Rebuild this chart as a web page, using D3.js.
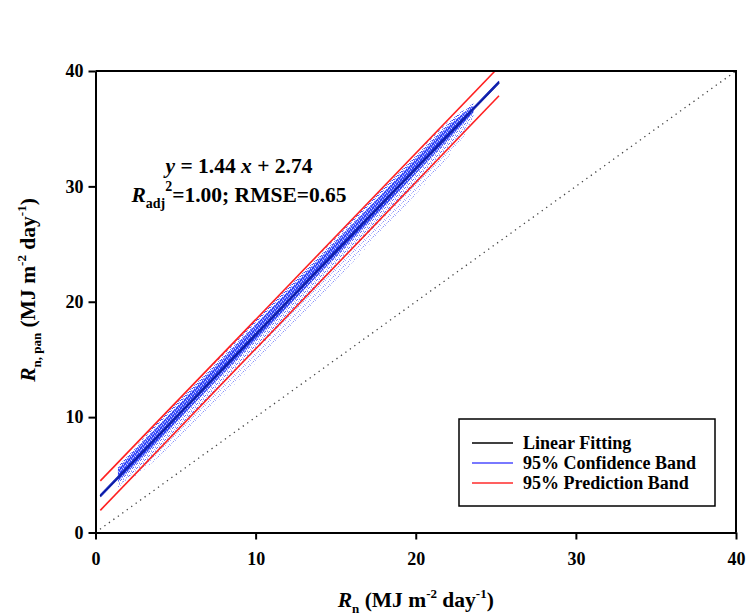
<!DOCTYPE html>
<html lang="en">
<head>
<meta charset="UTF-8">
<title>Rn pan vs Rn</title>
<script src="https://d3js.org/d3.v7.min.js"></script>
<style>
    body { margin: 0; background: #fff; }
    text { font-family: "Liberation Serif", "Times New Roman", serif; font-weight: bold; fill: #000; }
</style>
</head>
<body>
<svg id="chart" width="755" height="616"></svg>
<script>
    // tick values for both axes
    var xTicks = [0, 10, 20, 30, 40];
    var yTicks = [0, 10, 20, 30, 40];

    // fitted line and bands, end points
    var lineX = [0.3, 25.2];
    var fitY = [3.17, 39.03];
    var confUpY = [3.25, 39.11];
    var confLoY = [3.09, 38.95];
    var predUpX = [0.3, 24.95];
    var predUpY = [4.47, 40.0];
    var predLoY = [1.92, 37.85];

    // 1:1 reference line
    var oneToOne = [0, 40];

    // scatter cloud outline, from top edge down to the sparse lower points
    var cloudX = [1.4, 3, 5, 8, 11, 14, 17, 20, 22, 23.6];
    var cloudTop = [5.7, 8.2, 11.15, 15.5, 19.8, 24.1, 28.45, 32.75, 35.55, 37.2];
    var coreTop = [5.5, 7.9, 10.8, 15.1, 19.45, 23.75, 28.05, 32.4, 35.2, 37.0];
    var coreBottom = [4.4, 6.6, 9.5, 13.8, 18.1, 22.45, 26.75, 31.1, 34.0, 36.4];
    var midBottom = [4.1, 5.9, 8.7, 12.95, 17.25, 21.6, 25.9, 30.3, 33.3, 35.9];
    var sparseBottom = [3.9, 5.4, 7.9, 11.9, 16.1, 20.4, 24.8, 29.3, 32.5, 35.5];

    var legendItems = [
        {label: "Linear Fitting", color: "#000000"},
        {label: "95% Confidence Band", color: "#4d4dff"},
        {label: "95% Prediction Band", color: "#ff2b2b"}
    ];

    var svg = d3.select("#chart");
    var pLeft = 95.5, pRight = 736, pTop = 71, pBottom = 532.5;

    var x = d3.scaleLinear().domain([0, 40]).range([pLeft, pRight]);
    var y = d3.scaleLinear().domain([0, 40]).range([pBottom, pTop]);

    // speckle patterns to give the cloud a dotted look
    var defs = svg.append("defs");
    function speckle(id, size, bg, dots) {
        var p = defs.append("pattern").attr("id", id)
            .attr("width", size).attr("height", size).attr("patternUnits", "userSpaceOnUse");
        if (bg) p.append("rect").attr("width", size).attr("height", size).attr("fill", bg);
        dots.forEach(function(d) {
            p.append("rect").attr("x", d[0]).attr("y", d[1]).attr("width", 1).attr("height", 1).attr("fill", d[2]);
        });
    }
    speckle("corePat", 4, "#4c5eff", [[0, 0, "#1f33ee"], [2, 1, "#2a3ef2"], [1, 3, "#1f33ee"], [3, 2, "#3447f5"],
        [1, 1, "#c3c9ff"], [3, 0, "#d5d9ff"], [0, 2, "#9aa4ff"], [2, 3, "#b0b8ff"]]);
    speckle("fringePat", 4, null, [[0, 0, "#3a4cf5"], [2, 1, "#6b78fa"], [1, 3, "#3446f2"], [3, 2, "#8a94fa"],
        [2, 3, "#5363f6"], [3, 0, "#a4acfb"]]);
    speckle("midPat", 4, null, [[0, 0, "#6a77f8"], [2, 1, "#a3abfb"], [1, 3, "#5868f5"], [3, 2, "#b6bcfc"],
        [3, 3, "#8a94f9"]]);
    speckle("sparsePat", 5, null, [[0, 0, "#a5acfb"], [3, 1, "#8891f8"], [1, 3, "#bcc2fc"], [4, 4, "#a0a8fa"],
        [2, 2, "#c8ccfd"]]);
    defs.append("clipPath").attr("id", "plotClip").append("rect")
        .attr("x", pLeft).attr("y", pTop).attr("width", pRight - pLeft).attr("height", pBottom - pTop);

    var plot = svg.append("g").attr("clip-path", "url(#plotClip)");

    var cloud = cloudX.map(function(v, i) {
        return {x: v, top: cloudTop[i], cTop: coreTop[i], cBot: coreBottom[i], mBot: midBottom[i], low: sparseBottom[i]};
    });
    function layer(hi, lo, fill) {
        plot.append("path")
            .datum(cloud)
            .attr("fill", fill)
            .attr("d", d3.area().curve(d3.curveMonotoneX)
                .x(d => x(d.x)).y0(d => y(d[lo])).y1(d => y(d[hi])));
    }
    layer("mBot", "low", "url(#sparsePat)");
    layer("cBot", "mBot", "url(#midPat)");
    layer("cTop", "top", "url(#fringePat)");
    layer("cBot", "cTop", "url(#corePat)");

    // 1:1 line
    plot.append("line")
        .attr("x1", x(oneToOne[0])).attr("y1", y(oneToOne[0]))
        .attr("x2", x(oneToOne[1])).attr("y2", y(oneToOne[1]))
        .attr("stroke", "#444").attr("stroke-width", 1.3)
        .attr("stroke-dasharray", "1.3,4.2");

    function seg(xs, ys, color, w) {
        plot.append("line")
            .attr("x1", x(xs[0])).attr("y1", y(ys[0]))
            .attr("x2", x(xs[1])).attr("y2", y(ys[1]))
            .attr("stroke", color).attr("stroke-width", w);
    }
    seg(predUpX, predUpY, "#ff2020", 1.6);
    seg(lineX, predLoY, "#ff2020", 1.6);
    seg(lineX, fitY, "#000", 2);
    seg(lineX, confUpY, "#1628c8", 1.2);
    seg(lineX, confLoY, "#1628c8", 1.2);

    // axes
    var xAxis = svg.append("g").attr("transform", "translate(0," + pBottom + ")")
        .call(d3.axisBottom(x).tickValues(xTicks).tickSize(7).tickSizeOuter(0).tickPadding(13));
    var yAxis = svg.append("g").attr("transform", "translate(" + pLeft + ",0)")
        .call(d3.axisLeft(y).tickValues(yTicks).tickSize(7).tickSizeOuter(0).tickPadding(5));
    [xAxis, yAxis].forEach(function(a) {
        a.select(".domain").attr("stroke-width", 2);
        a.selectAll(".tick line").attr("stroke-width", 2);
        a.selectAll("text").attr("font-size", "18px")
            .attr("font-family", "Liberation Serif").attr("font-weight", "bold");
    });

    // frame top and right
    svg.append("line").attr("x1", pLeft).attr("x2", pRight + 1).attr("y1", pTop).attr("y2", pTop)
        .attr("stroke", "#000").attr("stroke-width", 2);
    svg.append("line").attr("x1", pRight).attr("x2", pRight).attr("y1", pTop).attr("y2", pBottom)
        .attr("stroke", "#000").attr("stroke-width", 2);

    // x title
    var xt = svg.append("text").attr("x", (pLeft + pRight) / 2).attr("y", 607)
        .attr("text-anchor", "middle").attr("font-size", "21.5px");
    xt.append("tspan").attr("font-style", "italic").text("R");
    xt.append("tspan").attr("font-size", "13px").attr("dy", 6).text("n");
    xt.append("tspan").attr("dy", -6).text(" (MJ m");
    xt.append("tspan").attr("font-size", "13px").attr("dy", -9).text("-2");
    xt.append("tspan").attr("dy", 9).text(" day");
    xt.append("tspan").attr("font-size", "13px").attr("dy", -9).text("-1");
    xt.append("tspan").attr("dy", 9).text(")");

    // y title
    var yt = svg.append("text").attr("transform", "translate(35,290) rotate(-90)")
        .attr("text-anchor", "middle").attr("font-size", "21.5px");
    yt.append("tspan").attr("font-style", "italic").text("R");
    yt.append("tspan").attr("font-size", "13px").attr("dy", 6).text("n, pan");
    yt.append("tspan").attr("dy", -6).text(" (MJ m");
    yt.append("tspan").attr("font-size", "13px").attr("dy", -9).text("-2");
    yt.append("tspan").attr("dy", 9).text(" day");
    yt.append("tspan").attr("font-size", "13px").attr("dy", -9).text("-1");
    yt.append("tspan").attr("dy", 9).text(")");

    // equation annotation
    var eq1 = svg.append("text").attr("x", 239).attr("y", 173)
        .attr("text-anchor", "middle").attr("font-size", "21.5px");
    eq1.append("tspan").attr("font-style", "italic").text("y");
    eq1.append("tspan").text(" = 1.44 ");
    eq1.append("tspan").attr("font-style", "italic").text("x");
    eq1.append("tspan").text(" + 2.74");

    var eq2 = svg.append("text").attr("x", 239).attr("y", 202)
        .attr("text-anchor", "middle").attr("font-size", "21.5px");
    eq2.append("tspan").attr("font-style", "italic").text("R");
    eq2.append("tspan").attr("font-size", "14px").attr("dy", 6).text("adj");
    eq2.append("tspan").attr("font-size", "14px").attr("dy", -17).text("2");
    eq2.append("tspan").attr("dy", 11).text("=1.00; RMSE=0.65");

    // legend
    var lg = svg.append("g");
    lg.append("rect").attr("x", 459).attr("y", 419).attr("width", 256).attr("height", 87)
        .attr("fill", "#fff").attr("stroke", "#000").attr("stroke-width", 1.5);
    var rows = lg.selectAll(".row").data(legendItems).join("g")
        .attr("class", "row")
        .attr("transform", (d, i) => "translate(0," + (443 + i * 20) + ")");
    rows.append("line").attr("x1", 472).attr("x2", 513).attr("y1", 0).attr("y2", 0)
        .attr("stroke", d => d.color).attr("stroke-width", 1.5);
    rows.append("text").attr("x", 523).attr("y", 0).attr("dy", "0.33em")
        .attr("font-size", "18px").text(d => d.label);
</script>
</body>
</html>
